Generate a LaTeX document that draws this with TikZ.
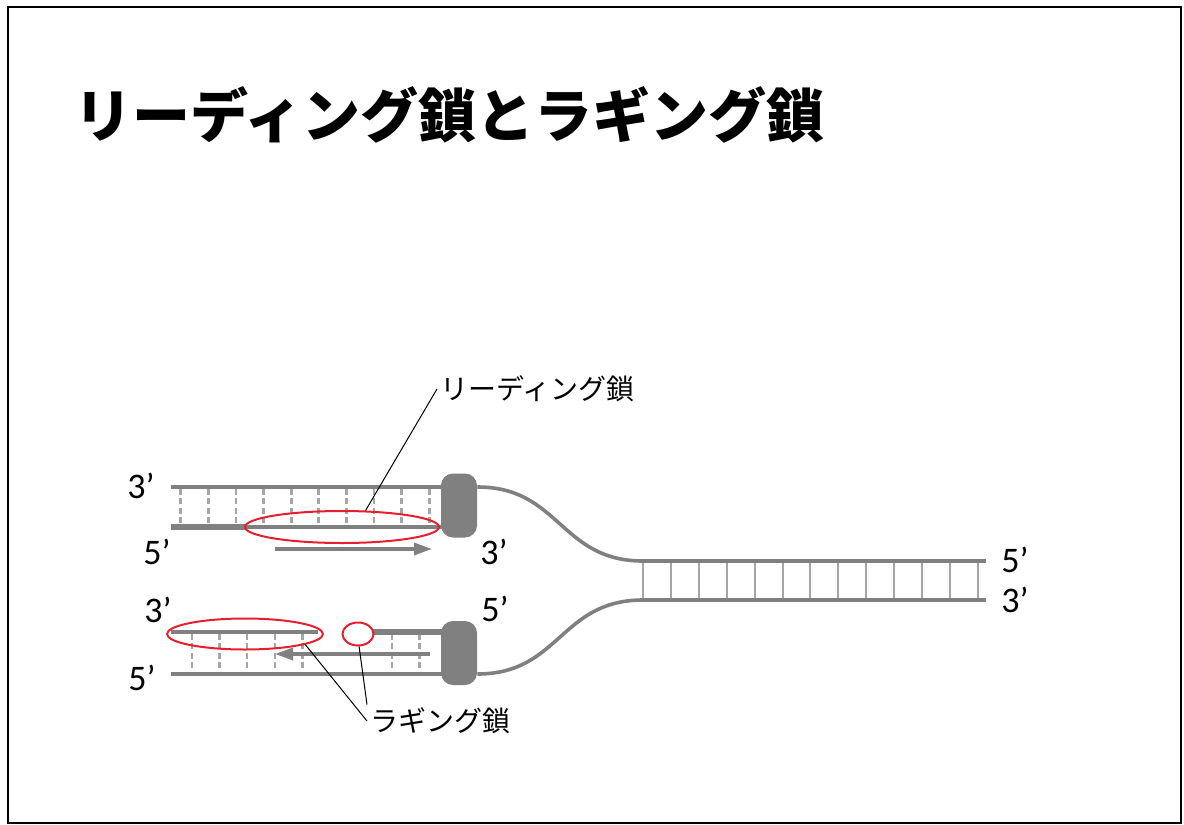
\documentclass[tikz,border=0pt]{standalone}
\usepackage{fontspec}
\setmainfont{Carlito}
\newfontfamily\jp{Noto Sans CJK JP}
\usetikzlibrary{shapes.geometric,arrows.meta}

\definecolor{strandgray}{RGB}{128,128,128}
\definecolor{runggray}{RGB}{165,165,165}
\definecolor{ringred}{RGB}{230,30,45}

\tikzset{
  strand/.style={draw=strandgray, line width=1.8pt},
  primer/.style={draw=strandgray, line width=3.3pt},
  hbond/.style={draw=runggray, line width=1.4pt, dash pattern=on 3pt off 1.7pt},
  basepair/.style={draw=runggray, line width=1pt},
  polymerase/.style={fill=strandgray, rounded corners=6pt, minimum width=18pt, minimum height=32pt, inner sep=0},
  ring/.style={ellipse, draw=ringred, line width=1pt, inner sep=0},
  synth/.style={draw=strandgray, line width=1.6pt, -{Triangle[length=9pt,width=6pt]}},
  leader/.style={draw=black, line width=0.5pt},
  endlabel/.style={font=\fontsize{18pt}{20pt}\selectfont, inner sep=0},
  strandname/.style={font=\jp\fontsize{14pt}{16pt}\selectfont, inner sep=1.5pt}
}

\begin{document}
\begin{tikzpicture}[x=0.5pt, y=-0.5pt]
\useasboundingbox (0,0) rectangle (1184,825);
\draw[line width=1.3pt] (8,7) rectangle (1181,823);

\node[anchor=base west, inner sep=0, font=\jp\bfseries\fontsize{29pt}{31pt}\selectfont] (title) at (74,137) {リーディング鎖とラギング鎖};

% parent duplex on the right
\coordinate (p5) at (643,561);
\coordinate (p3) at (643,600);
\coordinate (e5) at (986,561);
\coordinate (e3) at (986,600);
\foreach \k in {0,...,12}
  \draw[basepair] ([xshift=13.95*\k pt]p5) -- ([xshift=13.95*\k pt]p3);
\draw[strand] (p5) -- (e5);
\draw[strand] (p3) -- (e3);

% leading strand fork (top)
\node[polymerase] (polA) at (459,505.5) {};
\coordinate (a3) at (171,487);
\coordinate (a5) at (171,527);
\coordinate (aprimer) at (245,527);
\foreach \x in {180.7,208.3,...,430}
  \draw[hbond] (\x,489) -- (\x,525);
\draw[strand] (a3) -- (a3 -| polA.west);
\draw[primer] (a5) -- (aprimer);
\draw[strand] (aprimer) -- (aprimer -| polA.center);
\draw[strand] (a3 -| polA.east) .. controls (560,487) and (560,561) .. (p5);
\node[ring, minimum width=97pt, minimum height=16pt] (lead) at (342,527) {};
\coordinate (lfrom) at (275,549);
\coordinate (lto) at (432,549);
\draw[synth] (lfrom) -- (lto);

% lagging strand fork (bottom)
\node[polymerase] (polB) at (459,653) {};
\coordinate (b3) at (171,632);
\coordinate (bfrag) at (318,632);
\coordinate (bprimer) at (373,632);
\coordinate (b5) at (171,674);
\foreach \x in {192,219.5,247,275,302.5,392,419.5}
  \draw[hbond] (\x,634) -- (\x,672);
\draw[strand] (b3) -- (bfrag);
\draw[primer] (bprimer) -- (bprimer -| polB.center);
\draw[strand] (b5) -- (b5 -| polB.center);
\draw[strand] (b5 -| polB.east) .. controls (560,674) and (560,600) .. (p3);
\node[ring, minimum width=78pt, minimum height=15.5pt] (lagA) at (245,634) {};
\node[ring, minimum width=15.5pt, minimum height=11.5pt] (lagB) at (358,634) {};
\coordinate (gfrom) at (430,654);
\coordinate (gto) at (275,654);
\draw[synth] (gfrom) -- (gto);

% strand ends
\node[endlabel] (ta3) at (141,486) {3’};
\node[endlabel] (ta5) at (157,552) {5’};
\node[endlabel] (tr3) at (494,552) {3’};
\node[endlabel] (tr5) at (495,609) {5’};
\node[endlabel] (tb3) at (158,610) {3’};
\node[endlabel] (tb5) at (142,678) {5’};
\node[endlabel] (te5) at (1015,560) {5’};
\node[endlabel] (te3) at (1015,600) {3’};

% callouts
\node[strandname, anchor=west] (leadname) at (437,389) {リーディング鎖};
\node[strandname, anchor=west] (lagname) at (367,721) {ラギング鎖};
\draw[leader] (leadname.west) -- (lead.35);
\draw[leader] (lagname.west) -- (lagA.-10);
\draw[leader] (lagname.north west) -- (lagB.-85);
\end{tikzpicture}
\end{document}
